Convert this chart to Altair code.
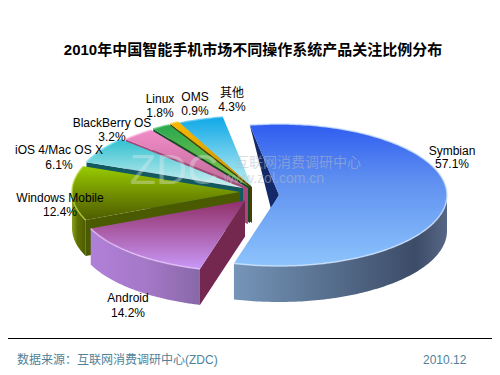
import math
import altair as alt

# ---- chart values -------------------------------------------------------
names = ["Symbian", "Android", "Windows Mobile", "iOS 4/Mac OS X", "BlackBerry OS", "Linux", "OMS", "其他"]
shares = [57.1, 14.2, 12.4, 6.1, 3.2, 1.8, 0.9, 4.3]
share_labels = ["57.1%", "14.2%", "12.4%", "6.1%", "3.2%", "1.8%", "0.9%", "4.3%"]

# ---- layout (reference pixels, page margin is subtracted below) ----------
M = 8
START = -10.0
RX, RY, DEPTH = 168.0, 71.0, 36.0
apex = [(279, 195), (245, 200.5), (240, 192), (243, 188), (248, 188), (250, 187), (251, 186), (252, 187)]
label_xy = [(452, 151, 164), (128, 298, 313), (60, 198, 212), (59, 150, 165),
            (112, 123, 137), (160, 99, 113), (195, 97, 111), (232, 93, 107)]

# top gradient stops, side gradient stops, wall colour, rim colour
styles = [
    ([("#2f5cf0", 0), ("#5f90f0", .4), ("#8cc4fc", 1)], [("#7595b8", 0), ("#3c4c68", .85), ("#566684", 1)], "#142a68", "#cfe4ff"),
    ([("#8f2f6a", 0), ("#a858a0", .4), ("#c898f8", 1)], [("#b080d8", 0), ("#a578c8", .5), ("#8868a8", 1)], "#742850", "#e6c4f8"),
    ([("#98cc00", 0), ("#6f8a00", .55), ("#4d5c00", 1)], [("#86a020", 0), ("#607000", .4), ("#4d5c00", 1)], "#4a5a00", "#b8d840"),
    ([("#30c0d0", 0), ("#d0f0f0", 1)], [("#30c0d0", 0), ("#30c0d0", 1)], "#135a60", "#80e0e8"),
    ([("#f08cc8", 0), ("#c06898", 1)], [("#f08cc8", 0), ("#f08cc8", 1)], "#a84878", "#f8b8e0"),
    ([("#28a850", 0), ("#90c848", 1)], [("#28a850", 0), ("#28a850", 1)], "#144a28", "#60c880"),
    ([("#f8b800", 0), ("#c89000", 1)], [("#f8b800", 0), ("#f8b800", 1)], "#4a4000", "#f8d040"),
    ([("#10a8e8", 0), ("#c0f0f0", 1)], [("#10a8e8", 0), ("#10a8e8", 1)], "#0a4a60", "#60c8f0"),
]

FONT = "Liberation Sans, Arial, Noto Sans CJK SC"


def pt(c, deg, dy=0.0):
    a = math.radians(deg)
    return [c[0] - M + RX * math.sin(a), c[1] - M - RY * math.cos(a) + dy]


def grad(stops, vertical=True):
    return alt.LinearGradient(
        gradient="linear",
        stops=[alt.GradientStop(color=c, offset=o) for c, o in stops],
        x1=0, y1=0, x2=0 if vertical else 1, y2=1 if vertical else 0,
    )


def poly(points, **mark):
    ring = points + [points[0]]
    feat = {"type": "Feature", "properties": {}, "geometry": {"type": "Polygon", "coordinates": [ring]}}
    return alt.Chart(alt.Data(values=[feat])).mark_geoshape(strokeWidth=0, **mark).project(type="identity", scale=1, translate=[0, 0])


def rim(points, color):
    feat = {"type": "Feature", "properties": {}, "geometry": {"type": "LineString", "coordinates": points}}
    return alt.Chart(alt.Data(values=[feat])).mark_geoshape(filled=False, stroke=color, strokeWidth=1.5, strokeOpacity=0.8).project(type="identity", scale=1, translate=[0, 0])


# angular extents from the values
edges = [START]
for s in shares:
    edges.append(edges[-1] + s * 3.6)

layers = []


def arc(c, a0, a1, dy=0.0):
    n = max(4, int(abs(a1 - a0)))
    return [pt(c, a0 + (a1 - a0) * i / n, dy) for i in range(n + 1)]


def wedge(i):
    a0, a1 = edges[i], edges[i + 1]
    c = apex[i]
    top_stops, side_stops, wall, rim_col = styles[i]
    C = [c[0] - M, c[1] - M]
    out = []
    lo, hi = max(a0, 90), min(a1, 270)
    if hi > lo:
        out.append(poly(arc(c, lo, hi) + arc(c, hi, lo, DEPTH), fill=grad(side_stops, False)))
    if i == 0:
        out.append(poly([pt(c, a0), C, [271 - M + 0, 209 - M]], fill=wall))
    else:
        out.append(poly([C, pt(c, a0), pt(c, a0, DEPTH), [C[0], C[1] + DEPTH]], fill=wall))
    out.append(poly([C] + arc(c, a0, a1), fill=grad(top_stops)))
    out.append(rim(arc(c, a0, a1), rim_col))
    return out


layers += wedge(0)
for i in [7, 6, 5, 4, 3, 2, 1]:
    layers += wedge(i)


def texts(rows, **mark):
    return alt.Chart(alt.Data(values=rows)).mark_text(baseline="middle", **mark).encode(
        x=alt.X("x:Q", scale=None), y=alt.Y("y:Q", scale=None), text="t:N")


# watermark
layers.append(texts([{"t": "ZDC", "x": 174 - M, "y": 171 - M}], font=FONT, fontSize=43, align="center", fill="#e8eef0", opacity=0.35))
layers.append(texts([{"t": "互联网消费调研中心", "x": 361 - M, "y": 163 - M}], font=FONT, fontSize=14, align="right", fill="#b4bcc8", opacity=0.5))
layers.append(texts([{"t": "www.zol.com.cn", "x": 324 - M, "y": 179 - M}], font=FONT, fontSize=14, align="right", fill="#b4bcc8", opacity=0.5))

# slice labels
rows = []
for n, s, (x, y1, y2) in zip(names, share_labels, label_xy):
    rows.append({"t": n, "x": x - M, "y": y1 - M})
    rows.append({"t": s, "x": x - M, "y": y2 - M})
layers.append(texts(rows, font=FONT, fontSize=12, align="center", fill="#000000"))

# title and footer
layers.append(texts([{"t": "2010年中国智能手机市场不同操作系统产品关注比例分布", "x": 253 - M, "y": 50 - M}],
                    font=FONT, fontSize=15, fontWeight="bold", align="center", fill="#000000"))
layers.append(texts([{"t": "数据来源：互联网消费调研中心(ZDC)", "x": 17 - M, "y": 359.5 - M}], font=FONT, fontSize=12, align="left", fill="#4f8299"))
layers.append(texts([{"t": "2010.12", "x": 423 - M, "y": 359.5 - M}], font=FONT, fontSize=12, align="left", fill="#4f8299"))

# rule above the footer
layers.append(alt.Chart(alt.Data(values=[{"a": 0}])).mark_rule(color="#000000", strokeWidth=1).encode(
    x=alt.value(0), x2=alt.value(484), y=alt.value(338.5 - M)))

chart = alt.layer(*layers).properties(
    width=484, height=359, padding=0, autosize=alt.AutoSizeParams(type="none"),
    background="#ffffff",
).configure_view(stroke=None)

chart.save("out.html", embed_options={"renderer": "svg", "actions": False})
